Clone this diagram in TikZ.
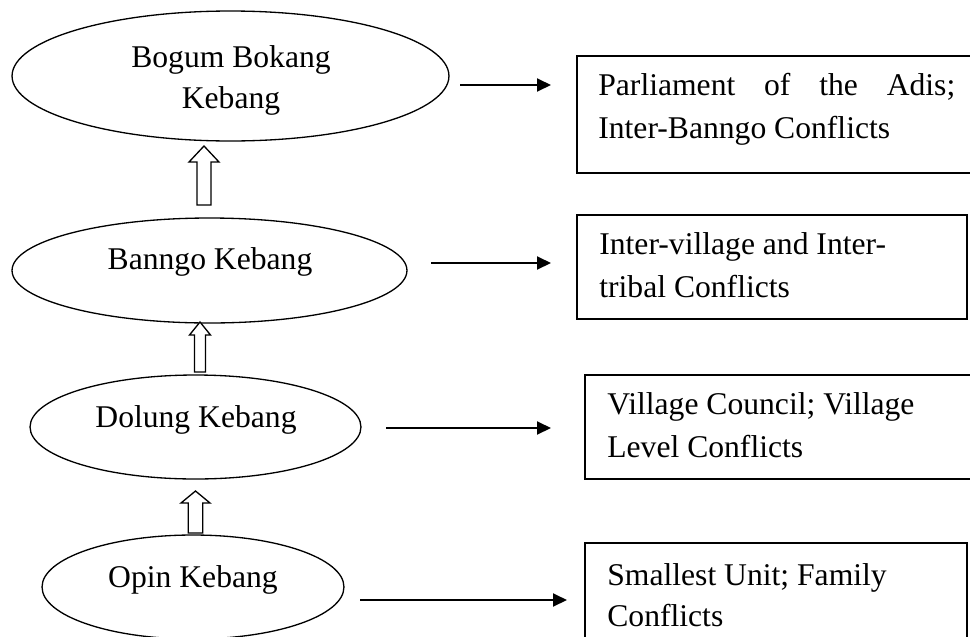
\documentclass[tikz,border=0pt]{standalone}
\usepackage{fontspec}
\setmainfont{Liberation Serif}
\usetikzlibrary{shapes.geometric,arrows.meta}
\newcommand\blockup[6]{% cx, tip, headbase, bottom, headhalf, shafthalf
  \draw[hollow] (#1-#6,#4) -- (#1-#6,#3) -- (#1-#5,#3) -- (#1,#2) -- (#1+#5,#3) -- (#1+#6,#3) -- (#1+#6,#4) -- cycle;}
\begin{document}
\begin{tikzpicture}[x=0.02cm,y=-0.02cm,
  ell/.style={draw,ellipse,line width=0.75pt,inner sep=0,minimum height=2.08cm},
  box/.style={draw,rectangle,line width=0.8pt,inner sep=0},
  txt/.style={inner sep=0,font=\fontsize{18}{24}\selectfont},
  conn/.style={line width=1.1pt,-{Triangle[length=0.28cm,width=0.26cm]}},
  hollow/.style={draw,line width=0.75pt,fill=white}]
\useasboundingbox (0,0) rectangle (970,636);
\clip (0,0) rectangle (970,636);

% ellipses
\node[ell,minimum width=8.74cm,minimum height=2.6cm] (e1) at (230.5,76) {};
\node[ell,minimum width=7.9cm,minimum height=2.1cm] (e2) at (209.5,270.5) {};
\node[ell,minimum width=6.62cm] (e3) at (195.5,427) {};
\node[ell,minimum width=6.04cm] (e4) at (193,587) {};

\node[txt,anchor=base] (t1a) at (231,67) {Bogum Bokang};
\node[txt,anchor=base] (t1b) at (231,108) {Kebang};
\node[txt,anchor=base] (t2) at (210,269) {Banngo Kebang};
\node[txt,anchor=base] (t3) at (196,427) {Dolung Kebang};
\node[txt,anchor=base] (t4) at (193,587) {Opin Kebang};

% boxes
\node[box,minimum width=8.26cm,minimum height=2.34cm] (b1) at (783.5,114.5) {};
\node[box,minimum width=7.8cm,minimum height=2.08cm] (b2) at (772,267) {};
\node[box,minimum width=8.1cm,minimum height=2.08cm] (b3) at (787.5,427) {};
\node[box,minimum width=7.64cm,minimum height=3.14cm] (b4) at (776,621.5) {};

\node[txt,anchor=base west] (l1a) at (598,95) {\makebox[7.14cm][s]{Parliament of the Adis;}};
\node[txt,anchor=base west] (l1b) at (598,138) {Inter-Banngo Conflicts};
\node[txt,anchor=base west] (l2a) at (599,254) {Inter-village and Inter-};
\node[txt,anchor=base west] (l2b) at (599,297) {tribal Conflicts};
\node[txt,anchor=base west] (l3a) at (607,414) {Village Council; Village};
\node[txt,anchor=base west] (l3b) at (607,457) {Level Conflicts};
\node[txt,anchor=base west] (l4a) at (607,585) {Smallest Unit; Family};
\node[txt,anchor=base west] (l4b) at (607,626) {Conflicts};

% horizontal arrows
\coordinate (a1s) at (460,85);  \coordinate (a1e) at (551,85);
\coordinate (a2s) at (431,263); \coordinate (a2e) at (551,263);
\coordinate (a3s) at (386,428); \coordinate (a3e) at (551,428);
\coordinate (a4s) at (360,600); \coordinate (a4e) at (567,600);
\draw[conn] (a1s) -- (a1e);
\draw[conn] (a2s) -- (a2e);
\draw[conn] (a3s) -- (a3e);
\draw[conn] (a4s) -- (a4e);

% hollow upward arrows
\blockup{204}{146}{162}{205}{15}{7}
\blockup{200}{322}{335}{372}{10.5}{5.5}
\blockup{195.5}{491}{503}{533}{14.5}{7.3}
\end{tikzpicture}
\end{document}
